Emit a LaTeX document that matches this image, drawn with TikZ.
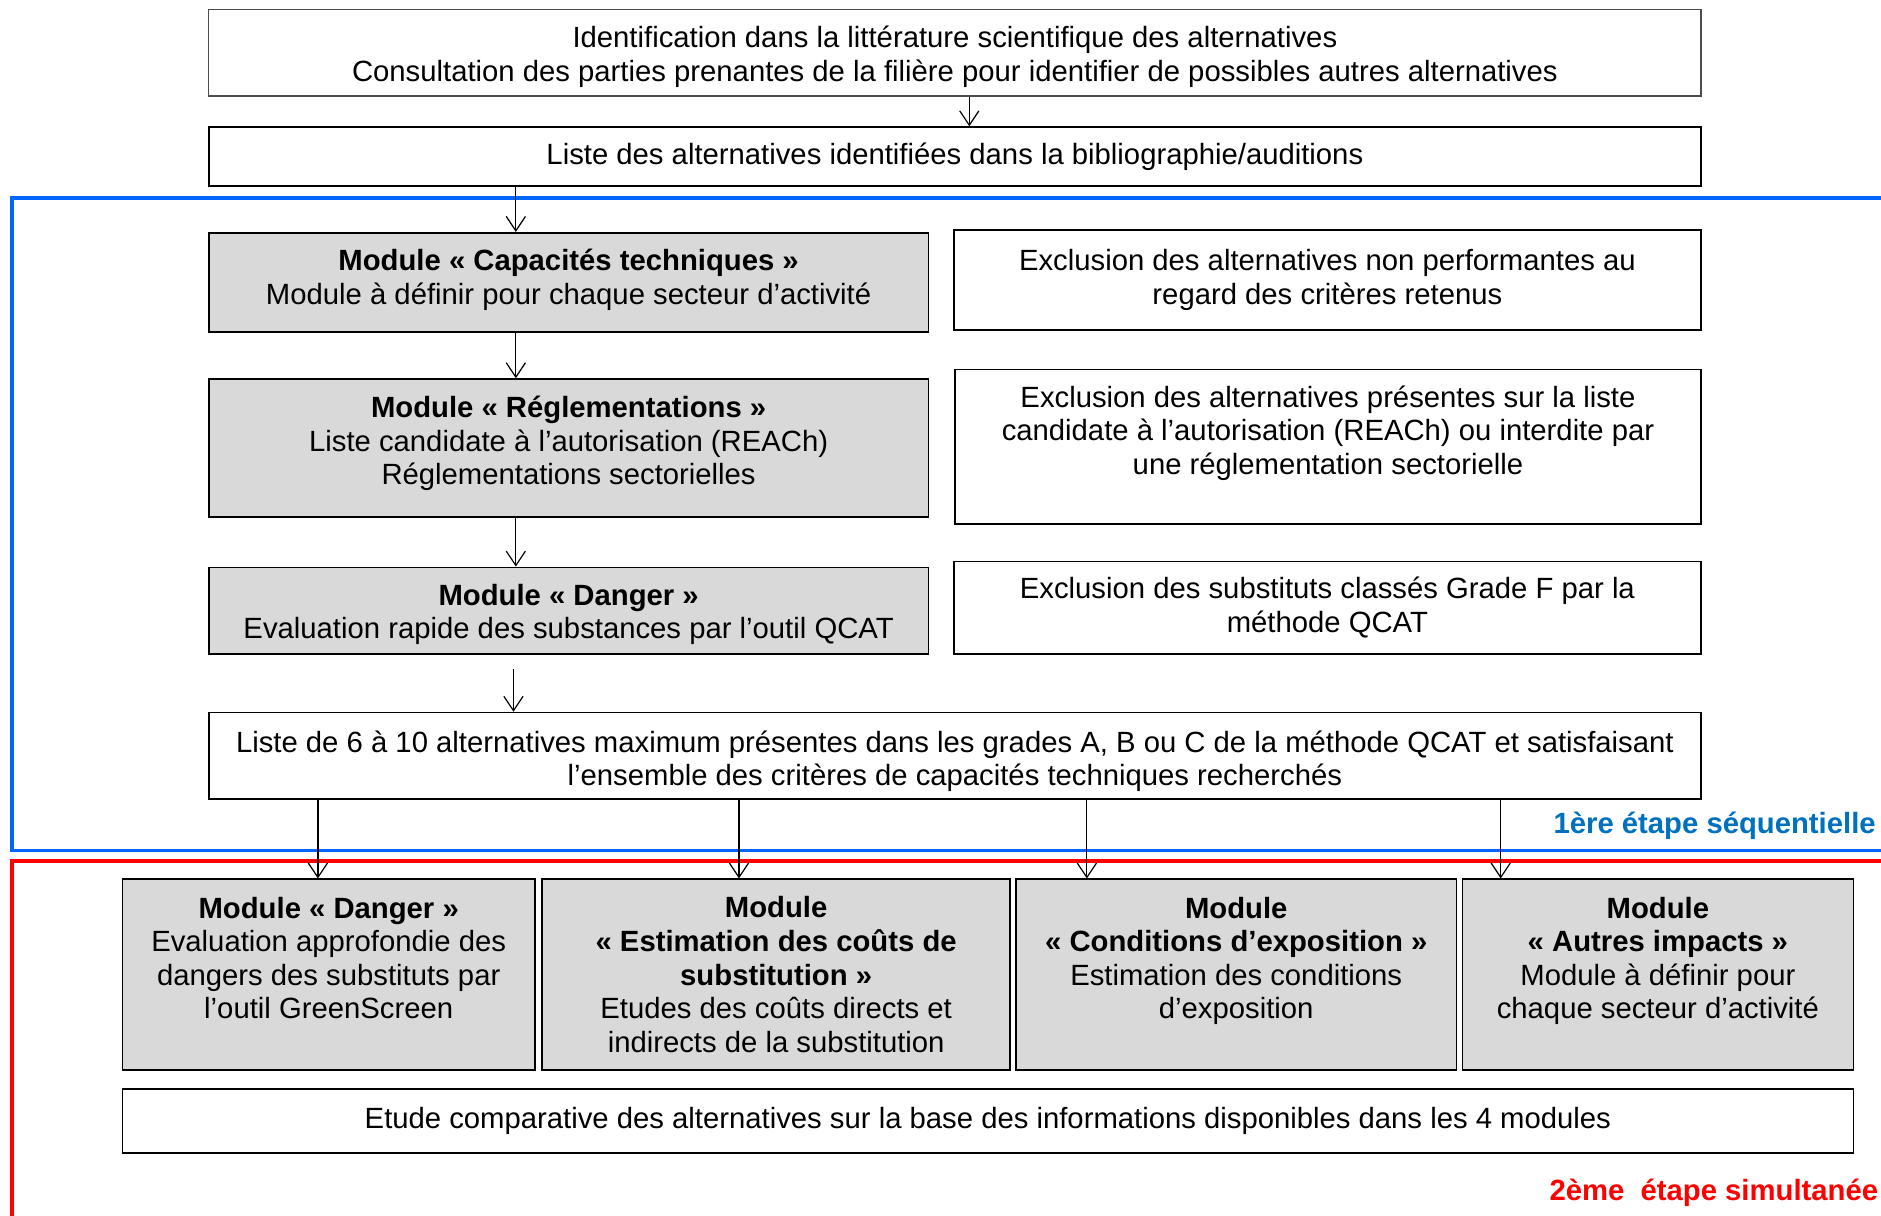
\documentclass[tikz,border=0pt]{standalone}
\usepackage{fontspec}
\setmainfont{Liberation Sans}
\usetikzlibrary{arrows.meta}
\definecolor{boxgray}{HTML}{D9D9D9}
\definecolor{seqblue}{HTML}{0066FF}
\definecolor{labblue}{HTML}{0070C0}
\begin{document}
\begin{tikzpicture}[x=0.5pt, y=-0.5pt, >={Straight Barb[length=6pt,width=8pt]},
		main/.style = {draw, line width=0.7pt, rectangle, align=center, inner sep=0pt, font=\fontsize{12.2}{14}\selectfont},
		mod/.style = {main, fill=boxgray},
		etape/.style = {line width=1.6pt},
		lab/.style = {anchor=east, inner sep=0pt, font=\bfseries\fontsize{12.2}{14}\selectfont}]
		\clip (0,0) rectangle (1568,1013);

		% cadres des deux etapes
		\draw[seqblue, etape] (1600,165) -| (10,709) -- (1600,709);
		\draw[red, etape] (1600,718) -| (10,1050);

		\node[main, minimum width=622pt, minimum height=36pt, draw=black!70, line width=0.5pt] (1) at (796,44) {\rule{0pt}{12.1pt}Identification dans la littérature scientifique des alternatives\\Consultation des parties prenantes de la filière pour identifier de possibles autres alternatives};
		\node[main, minimum width=622pt, minimum height=24.5pt] (2) at (796,130.5) {Liste des alternatives identifiées dans la bibliographie/auditions};

		\node[mod, minimum width=300pt, minimum height=41.5pt] (3) at (474,235.5) {\textbf{Module « Capacités techniques »}\\Module à définir pour chaque secteur d’activité\rule[-5pt]{0pt}{0pt}};
		\node[main, minimum width=311.5pt, minimum height=41.5pt] (4) at (1106.5,233.5) {Exclusion des alternatives non performantes au\\regard des critères retenus};
		\node[mod, minimum width=300pt, minimum height=57.5pt] (5) at (474,373.5) {\textbf{Module « Réglementations »}\\Liste candidate à l’autorisation (REACh)\\Réglementations sectorielles\rule[-6.5pt]{0pt}{0pt}};
		\node[main, minimum width=311pt, minimum height=64.5pt] (6) at (1107,372.5) {Exclusion des alternatives présentes sur la liste\\candidate à l’autorisation (REACh) ou interdite par\\une réglementation sectorielle\\\mbox{}};
		\node[mod, minimum width=300pt, minimum height=36pt] (7) at (474,509) {\rule{0pt}{12.1pt}\textbf{Module « Danger »}\\Evaluation rapide des substances par l’outil QCAT};
		\node[main, minimum width=311.5pt, minimum height=38.5pt] (8) at (1106.5,506.5) {Exclusion des substituts classés Grade F par la\\méthode QCAT};

		\node[main, minimum width=622pt, minimum height=36pt] (9) at (796,630) {\rule{0pt}{13.6pt}Liste de 6 à 10 alternatives maximum présentes dans les grades A, B ou C de la méthode QCAT et satisfaisant\\l’ensemble des critères de capacités techniques recherchés};

		\node[mod, minimum width=172pt, minimum height=79.5pt] (10) at (274,812.5) {\textbf{Module « Danger »}\\Evaluation approfondie des\\dangers des substituts par\\l’outil GreenScreen\\\mbox{}};
		\node[mod, minimum width=195pt, minimum height=79.5pt] (11) at (647,812.5) {\textbf{Module}\\\textbf{« Estimation des coûts de}\\\textbf{substitution »}\\Etudes des coûts directs et\\indirects de la substitution};
		\node[mod, minimum width=183.5pt, minimum height=79.5pt] (12) at (1030.5,812.5) {\textbf{Module}\\\textbf{« Conditions d’exposition »}\\Estimation des conditions\\d’exposition\\\mbox{}};
		\node[mod, minimum width=163pt, minimum height=79.5pt] (13) at (1382,812.5) {\textbf{Module}\\\textbf{« Autres impacts »}\\Module à définir pour\\chaque secteur d’activité\\\mbox{}};

		\node[main, minimum width=721.5pt, minimum height=26.5pt] (14) at (823.5,934.5) {Etude comparative des alternatives sur la base des informations disponibles dans les 4 modules};

		\node[lab, text=labblue] (15) at (1564,688) {1ère étape séquentielle};
		\node[lab, text=red] (16) at (1566,994) {2ème\ \ étape simultanée};

		\coordinate (7b) at ([yshift=-6pt]7.south);

		\draw[->, line width=0.5pt] (808,0 |- 1.south) -- (808,0 |- 2.north);
		\draw[->, line width=0.5pt] (430,0 |- 2.south) -- (430,0 |- 3.north);
		\draw[->, line width=0.5pt] (430,0 |- 3.south) -- (430,0 |- 5.north);
		\draw[->, line width=0.5pt] (430,0 |- 5.south) -- (430,0 |- 7.north);
		\draw[->, line width=0.5pt] (7b -| 428,0) -- (428,0 |- 9.north);
		\foreach \n/\ax in {10/265, 11/616, 12/906, 13/1251}
			\draw[->, line width=0.5pt] (\ax,0 |- 9.south) -- (\ax,0 |- \n.north);
	\end{tikzpicture}
\end{document}
